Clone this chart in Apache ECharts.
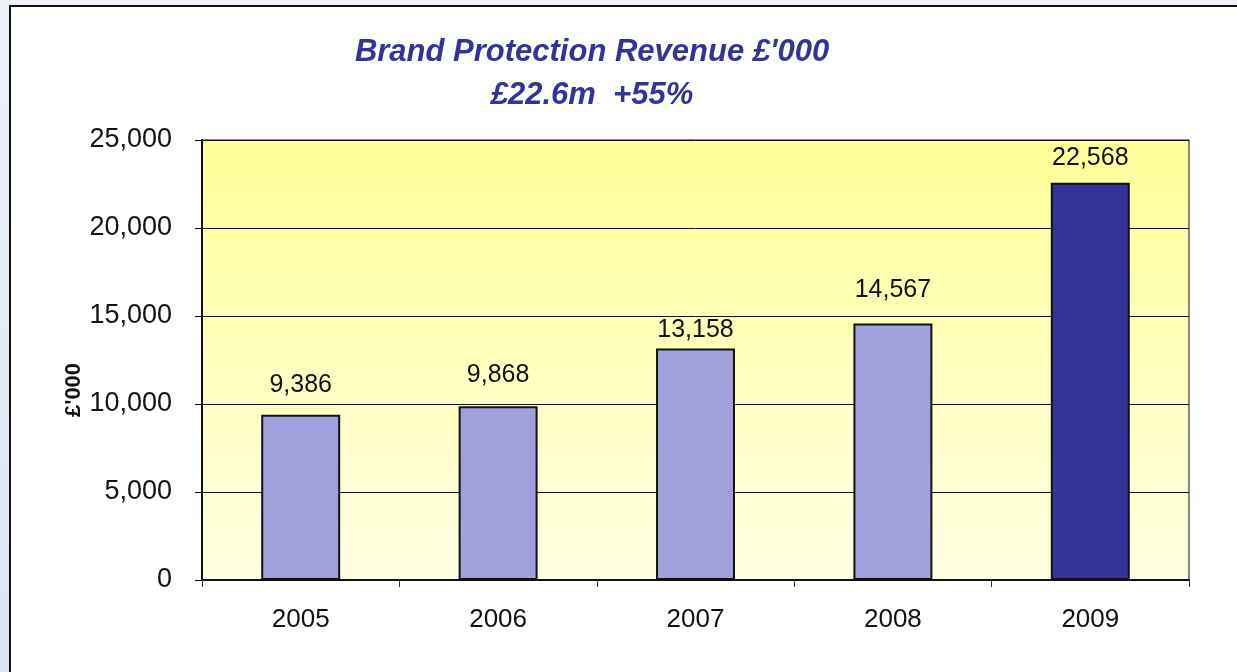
<!DOCTYPE html>
<html>
<head>
<meta charset="utf-8">
<title>Brand Protection Revenue</title>
<script src="https://cdn.jsdelivr.net/npm/echarts@6/dist/echarts.min.js"></script>
<style>
  html, body { margin: 0; padding: 0; width: 100%; height: 100%; overflow: hidden; }
  #chart { width: 1237px; height: 672px; }
</style>
</head>
<body>
<div id="chart"></div>
<script>
// Revenue by year, £'000
const years = ['2005', '2006', '2007', '2008', '2009'];
const revenue = [9386, 9868, 13158, 14567, 22568];
const yTicks = [0, 5000, 10000, 15000, 20000, 25000];

// Gap between each value label and the top of its bar (px)
const labelGaps = [17, 19, 6, 21, 12];

const FONT = 'Liberation Sans';
const lightBar = '#A0A0DC';
const darkBar = '#333399';

const fmt = v => v.toLocaleString('en-GB');

const chart = echarts.init(document.getElementById('chart'), null, { renderer: 'canvas' });

chart.setOption({
  animation: false,
  backgroundColor: new echarts.graphic.LinearGradient(0, 0, 0, 1, [
    { offset: 0, color: '#EEF2F8' },
    { offset: 1, color: '#DCE4F4' }
  ]),
  graphic: [
    {
      type: 'rect', silent: true, z: -10,
      shape: { x: 10, y: 6, width: 1300, height: 720 },
      style: { fill: '#FFFFFF', stroke: '#111111', lineWidth: 2 }
    },
    {
      type: 'text', silent: true,
      x: 592, y: 31,
      style: {
        text: "Brand Protection Revenue £'000\n£22.6m  +55%",
        fill: '#333399',
        fontFamily: FONT,
        fontSize: 31,
        fontWeight: 'bold',
        fontStyle: 'italic',
        lineHeight: 43,
        align: 'center'
      }
    },
    {
      type: 'text', silent: true,
      x: 74, y: 390, rotation: Math.PI / 2,
      style: {
        text: "£'000",
        fill: '#111111',
        fontFamily: FONT,
        fontSize: 22,
        fontWeight: 'bold',
        align: 'center',
        verticalAlign: 'middle'
      }
    }
  ],
  grid: {
    left: 202, top: 140, right: 48, bottom: 92,
    show: true,
    borderColor: '#111111',
    borderWidth: 1,
    backgroundColor: new echarts.graphic.LinearGradient(0, 0, 0, 1, [
      { offset: 0, color: '#FFFF99' },
      { offset: 1, color: '#FFFFE2' }
    ])
  },
  xAxis: {
    type: 'category',
    data: years,
    boundaryGap: true,
    axisLine: { show: true, lineStyle: { color: '#111111', width: 2 } },
    axisTick: { show: true, alignWithLabel: false, length: 7, lineStyle: { color: '#333333', width: 1 } },
    axisLabel: { margin: 27, fontSize: 26, fontFamily: FONT, color: '#111111' },
    splitLine: { show: false }
  },
  yAxis: {
    type: 'value',
    min: yTicks[0],
    max: yTicks[yTicks.length - 1],
    interval: yTicks[1] - yTicks[0],
    axisLine: { show: true, lineStyle: { color: '#111111', width: 2 } },
    axisTick: { show: true, length: 7, lineStyle: { color: '#111111', width: 1 } },
    axisLabel: { margin: 30, fontSize: 27, fontFamily: FONT, color: '#111111', formatter: v => fmt(v) },
    splitLine: { show: true, lineStyle: { color: '#111111', width: 1 } }
  },
  series: [{
    type: 'bar',
    barWidth: '40%',
    data: revenue.map((v, i) => ({
      value: v,
      itemStyle: { color: i === revenue.length - 1 ? darkBar : lightBar },
      label: { distance: labelGaps[i] }
    })),
    itemStyle: { borderColor: '#111111', borderWidth: 2 },
    label: {
      show: true,
      position: 'top',
      fontSize: 25,
      fontFamily: FONT,
      color: '#111111',
      formatter: p => fmt(p.value)
    }
  }]
});
</script>
</body>
</html>
